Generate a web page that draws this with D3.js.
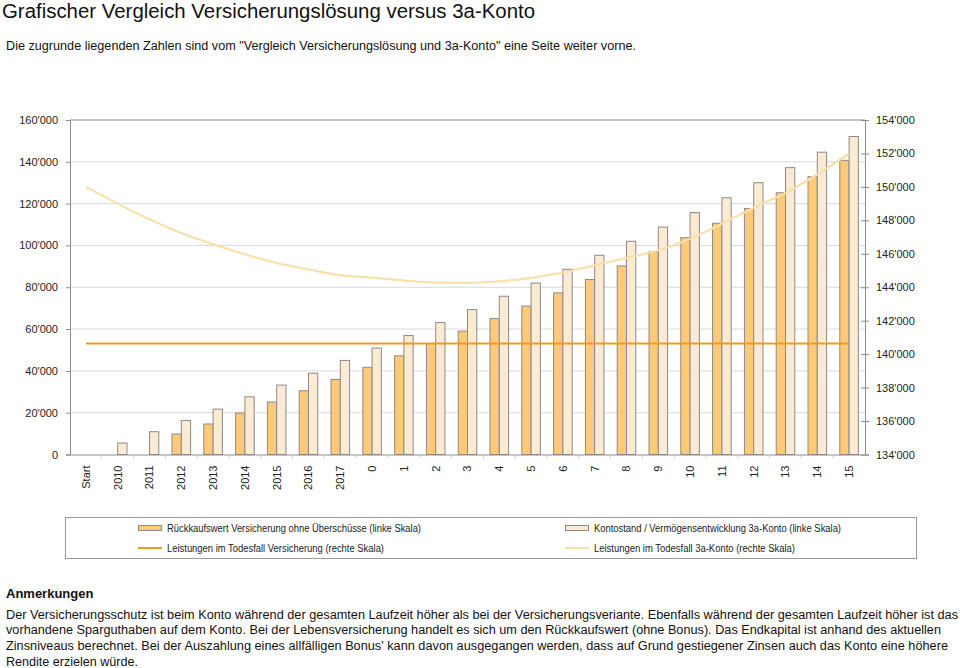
<!DOCTYPE html>
<html><head><meta charset="utf-8">
<script src="https://cdn.jsdelivr.net/npm/d3@7"></script>
<style>body{margin:0;background:#fff;} svg{display:block;font-family:"Liberation Sans",Arial,sans-serif;}</style>
</head><body>
<svg id="c" width="960" height="668"></svg>
<script>
const categories = ["Start","2010","2011","2012","2013","2014","2015","2016","2017","0","1","2","3","4","5","6","7","8","9","10","11","12","13","14","15"];
const rueckkaufswert = [0,0,0,9800,14600,19800,25100,30500,35900,41700,47200,53100,59000,65000,71000,77300,83700,90200,96900,103700,110600,117700,125200,132900,140700];
const kontostand = [0,5500,10900,16300,21700,27600,33200,38900,45000,50900,56900,63100,69300,75700,82000,88600,95300,102000,108800,115700,122800,130000,137200,144600,152100];
const todesfallVersicherung = [140640,140640,140640,140640,140640,140640,140640,140640,140640,140640,140640,140640,140640,140640,140640,140640,140640,140640,140640,140640,140640,140640,140640,140640,140640];
const todesfallKonto = [150000,149000,148060,147240,146570,145970,145450,145060,144720,144580,144400,144280,144260,144360,144560,144880,145310,145750,146200,146900,147800,148760,149630,150750,151980];
const leftTicks = [0,20000,40000,60000,80000,100000,120000,140000,160000];
const rightTicks = [134000,136000,138000,140000,142000,144000,146000,148000,150000,152000,154000];
const legendLabels = ["Rückkaufswert Versicherung ohne Überschüsse (linke Skala)","Kontostand / Vermögensentwicklung 3a-Konto (linke Skala)","Leistungen im Todesfall Versicherung (rechte Skala)","Leistungen im Todesfall 3a-Konto (rechte Skala)"];
const titleText = "Grafischer Vergleich Versicherungslösung versus 3a-Konto";
const subtitleText = "Die zugrunde liegenden Zahlen sind vom \"Vergleich Versicherungslösung und 3a-Konto\" eine Seite weiter vorne.";
const notesHeading = "Anmerkungen";
const notesLines = [
 "Der Versicherungsschutz ist beim Konto während der gesamten Laufzeit höher als bei der Versicherungsveriante. Ebenfalls während der gesamten Laufzeit höher ist das",
 "vorhandene Sparguthaben auf dem Konto. Bei der Lebensversicherung handelt es sich um den Rückkaufswert (ohne Bonus). Das Endkapital ist anhand des aktuellen",
 "Zinsniveaus berechnet. Bei der Auszahlung eines allfälligen Bonus' kann davon ausgegangen werden, dass auf Grund gestiegener Zinsen auch das Konto eine höhere",
 "Rendite erzielen würde."
];

const C = {dark:"#FFC97A", light:"#FDEAD2", stroke:"#8a8a8a", orange:"#F39A1C", pale:"#F9DFA9", grid:"#d9d9d9", axis:"#8c8c8c", text:"#222"};
const svg = d3.select("#c");
const L = 70, R = 865, T = 120, B = 454.5;

// titles
svg.append("text").attr("x",2).attr("y",18).attr("font-size",20).attr("fill","#111").attr("textLength",533).attr("lengthAdjust","spacingAndGlyphs").text(titleText);
svg.append("text").attr("x",6).attr("y",50).attr("font-size",12.5).attr("fill","#111").attr("textLength",630).attr("lengthAdjust","spacingAndGlyphs").text(subtitleText);

const x = d3.scaleBand().domain(categories).range([L,R]);
const yL = d3.scaleLinear().domain([0,160000]).range([B,T]);
const yR = d3.scaleLinear().domain([134000,154000]).range([B,T]);
const fmt = v => d3.format(",")(v).replace(/,/g,"'");

// gridlines
svg.append("g").selectAll("line").data(leftTicks.slice(1)).join("line")
  .attr("x1",L).attr("x2",R).attr("y1",d=>yL(d)).attr("y2",d=>yL(d))
  .attr("stroke",d=>d===160000?C.axis:C.grid).attr("stroke-width",1);

// left axis
const gl = svg.append("g").attr("transform",`translate(${L},0)`)
  .call(d3.axisLeft(yL).tickValues(leftTicks).tickFormat(fmt).tickSize(4).tickPadding(8));
gl.select(".domain").attr("stroke",C.axis);
gl.selectAll(".tick line").attr("stroke",C.axis);
gl.selectAll("text").attr("font-size",11).attr("fill",C.text).attr("font-family","Liberation Sans, Arial, sans-serif");

// right axis
const gr = svg.append("g").attr("transform",`translate(${R},0)`)
  .call(d3.axisRight(yR).tickValues(rightTicks).tickFormat(fmt).tickSize(4).tickPadding(7));
gr.select(".domain").attr("stroke",C.axis);
gr.selectAll(".tick line").attr("stroke",C.axis).attr("x1",-4);
gr.selectAll("text").attr("font-size",11).attr("fill",C.text).attr("font-family","Liberation Sans, Arial, sans-serif");

// bottom axis
const gb = svg.append("g").attr("transform",`translate(0,${B})`)
  .call(d3.axisBottom(x).tickSize(0).tickPadding(0));
gb.select(".domain").attr("stroke",C.axis);
gb.selectAll(".tick text").attr("font-size",11).attr("fill",C.text).attr("font-family","Liberation Sans, Arial, sans-serif")
  .attr("text-anchor","end").attr("transform","translate(0,11) rotate(-90)").attr("x",0).attr("y",0).attr("dy","0.35em");
svg.append("g").selectAll("line").data(categories.slice(1)).join("line")
  .attr("x1",d=>x(d)).attr("x2",d=>x(d)).attr("y1",B).attr("y2",B+4).attr("stroke","#cfcfcf");

// bars
const bw = x.bandwidth(), barW = bw*0.292, off = (bw-2*barW)/2;
const rows = categories.map((c,i)=>({c, a:rueckkaufswert[i], b:kontostand[i]}));
svg.append("g").selectAll("rect").data(rows.filter(d=>d.a>0)).join("rect")
  .attr("x",d=>x(d.c)+off).attr("width",barW).attr("y",d=>yL(d.a)).attr("height",d=>B-yL(d.a))
  .attr("fill",C.dark).attr("stroke",C.stroke).attr("stroke-width",1);
svg.append("g").selectAll("rect").data(rows.filter(d=>d.b>0)).join("rect")
  .attr("x",d=>x(d.c)+off+barW).attr("width",barW).attr("y",d=>yL(d.b)).attr("height",d=>B-yL(d.b))
  .attr("fill",C.light).attr("stroke",C.stroke).attr("stroke-width",1);

// lines
const cx = c => x(c)+bw/2;
svg.append("path").datum(categories.map((c,i)=>[cx(c), yR(todesfallVersicherung[i])]))
  .attr("d",d3.line()).attr("fill","none").attr("stroke",C.orange).attr("stroke-width",2);
svg.append("path").datum(categories.map((c,i)=>[cx(c), yR(todesfallKonto[i])]))
  .attr("d",d3.line().curve(d3.curveMonotoneX)).attr("fill","none").attr("stroke",C.pale).attr("stroke-width",2.2);

// legend
const lg = svg.append("g");
lg.append("rect").attr("x",65.5).attr("y",517.5).attr("width",851).attr("height",41).attr("fill","#fff").attr("stroke","#9a9a9a");
const legPos = [[138,528,"bar",C.dark,254],[565,528,"bar",C.light,247],[138,548,"line",C.orange,217],[565,548,"line",C.pale,201]];
legPos.forEach((p,i)=>{
  if(p[2]==="bar") lg.append("rect").attr("x",p[0]+0.5).attr("y",p[1]-2.5).attr("width",23).attr("height",5).attr("fill",p[3]).attr("stroke",C.stroke);
  else lg.append("line").attr("x1",p[0]).attr("x2",p[0]+24).attr("y1",p[1]).attr("y2",p[1]).attr("stroke",p[3]).attr("stroke-width",2);
  lg.append("text").attr("x",p[0]+29).attr("y",p[1]).attr("dy","0.35em").attr("font-size",10).attr("fill",C.text)
    .attr("textLength",p[4]).attr("lengthAdjust","spacingAndGlyphs").text(legendLabels[i]);
});

// notes
svg.append("text").attr("x",6).attr("y",598).attr("font-size",13).attr("font-weight","bold").attr("fill","#111").text(notesHeading);
const noteLens = [952,935,942,132];
notesLines.forEach((t,i)=>{
  svg.append("text").attr("x",6).attr("y",618.5+i*15.8).attr("font-size",12.5).attr("fill","#111")
    .attr("textLength",noteLens[i]).attr("lengthAdjust","spacingAndGlyphs").text(t);
});
</script>
</body></html>
